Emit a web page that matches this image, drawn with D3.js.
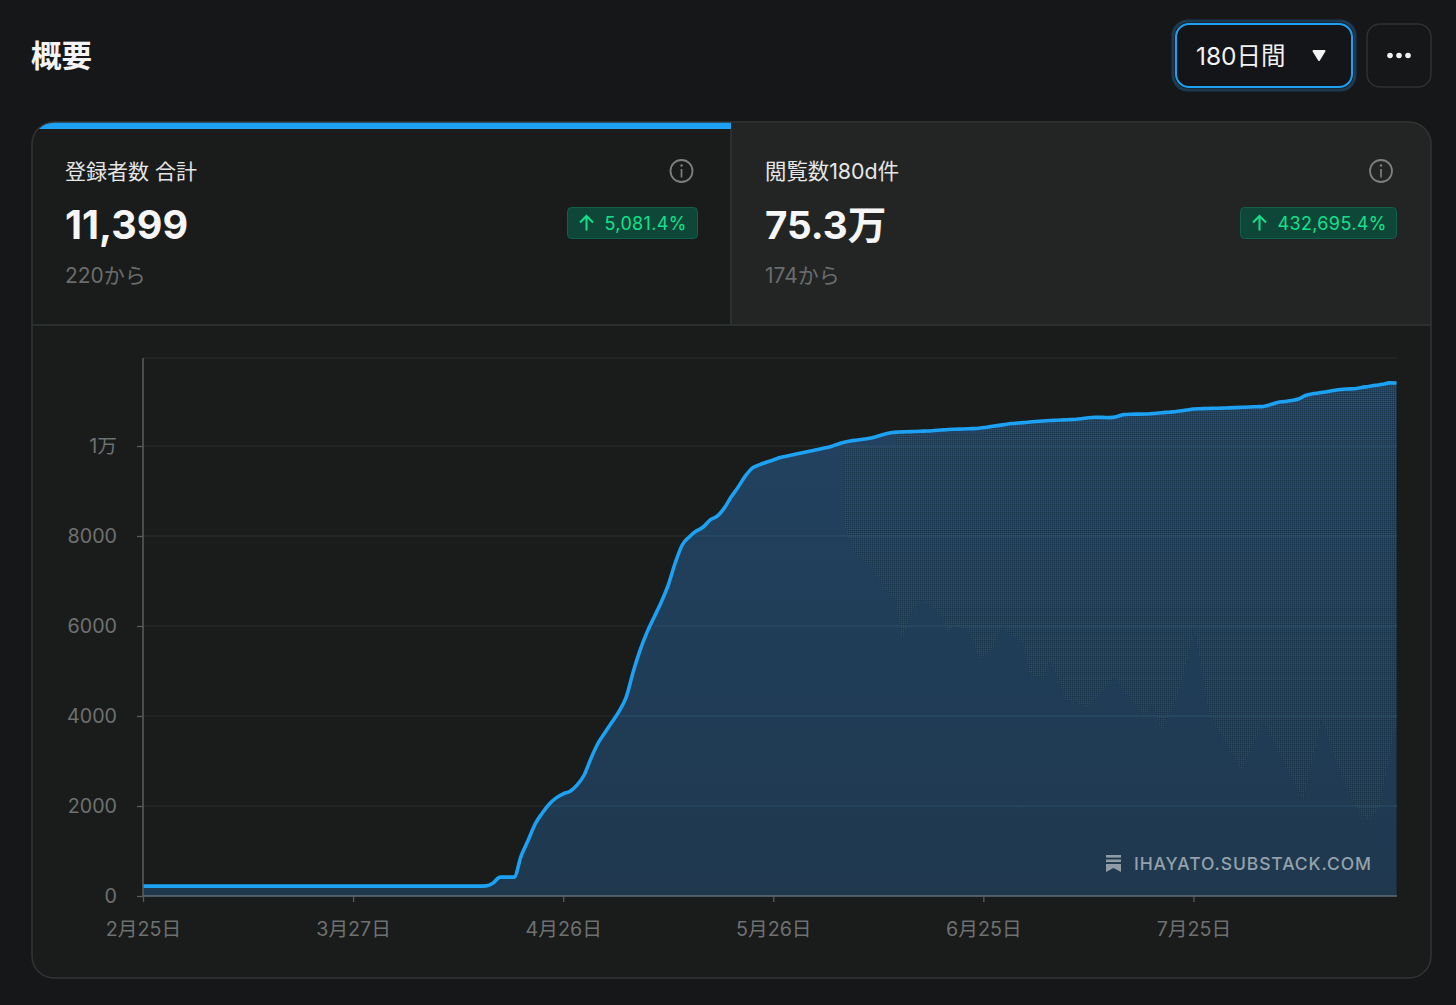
<!DOCTYPE html>
<html lang="ja">
<head>
<meta charset="utf-8">
<title>概要</title>
<script src="https://cdn.jsdelivr.net/npm/d3@7"></script>
<style>
  html, body { margin: 0; padding: 0; background: #161719; }
  svg { display: block; }
  text { font-family: "Inter", "Noto Sans CJK JP", sans-serif; }
</style>
</head>
<body>
<div id="chart"></div>
<script>
// daily totals
const flatDays = [220,220,220,220,220,220,220,220,220,220,220,220,220,220,220,220,220,220,220,220,220,220,220,220,220,
  220,220,220,220,220,220,220,220,220,220,220,220,220,220,220,220,220,220,220,220,220,220,220,220,225];
const riseDays = [290,420,420,420,890,1240,1600,1840,2040,2180,2270,2330,2470,2690,3070,3400,3640,3870,4110,4420,
  4980,5470,5870,6200,6530,6910,7400,7800,7980,8110,8200,8360,8440,8620,8870,9090,9330,9510,9580,9640,9690];
const tailDays = [9744,9778,9811,9844,9878,9911,9944,9978,10029,10078,10111,10133,10156,10178,10222,10267,10300,10311,
  10316,10322,10329,10333,10344,10356,10367,10373,10378,10384,10391,10409,10431,10453,10476,10500,10511,10524,10538,
  10551,10562,10569,10578,10584,10591,10604,10629,10638,10636,10631,10649,10698,10707,10709,10711,10720,10733,10747,
  10758,10778,10800,10822,10829,10833,10838,10842,10847,10853,10860,10867,10873,10880,10920,10967,10989,11011,11044,
  11122,11160,11182,11207,11233,11256,11267,11273,11300,11324,11349,11371,11404,11399];
const subscribers = flatDays.concat(riseDays, tailDays);

const yTicks = [0, 2000, 4000, 6000, 8000, 10000];
const yLabels = ['0', '2000', '4000', '6000', '8000', '1万'];
const xTickDays = [0, 30, 60, 90, 120, 150];
const xLabels = ['2月25日', '3月27日', '4月26日', '5月26日', '6月25日', '7月25日'];

// outline of the speckled part of the fill, as [day, value]
const speckleEdge = [[100.2,9984],[107.5,9984],[107.5,10280],[120,10280],[120,10450],[179,11600],[179,3689],
  [178.7,3689],[176.6,1984],[175,1651],[173.2,1984],[170.9,2800],[168.3,3911],[165.7,2133],[160,3873],[156.9,2800],
  [152.2,4067],[151.2,5022],[150.1,5956],[148.8,5022],[147.2,4207],[145.4,3689],[144.1,4289],[143.1,3984],[138.7,4844],
  [135,4207],[131.9,4356],[129.6,5244],[128.5,4844],[126.7,4911],[125.7,5622],[122.6,5956],[121.5,5540],[119.5,5244],
  [117.9,5911],[115.8,6022],[115,5822],[114.2,6207],[111.7,6578],[110.6,6540],[109.3,6133],[108.4,5651],[107.5,6578],
  [105.9,6873],[103.9,7356],[101.8,7578],[100.2,8207]];

const W = 1456, H = 1005;
const svg = d3.select('#chart').append('svg').attr('width', W).attr('height', H).attr('viewBox', `0 0 ${W} ${H}`);
const defs = svg.append('defs');

const x = d3.scaleLinear().domain([0, 179]).range([143, 1396.5]);
const y = d3.scaleLinear().domain([0, 11956]).range([896, 358]);

// card
const card = { x: 32, y: 122, w: 1399, h: 856, r: 22 };
defs.append('clipPath').attr('id', 'cardclip').append('rect')
  .attr('x', card.x).attr('y', card.y).attr('width', card.w).attr('height', card.h).attr('rx', card.r);
const inner = svg.append('g').attr('clip-path', 'url(#cardclip)');
inner.append('rect').attr('x', card.x).attr('y', card.y).attr('width', card.w).attr('height', card.h).attr('fill', '#1a1c1c');
inner.append('rect').attr('x', 731).attr('y', card.y).attr('width', 700).attr('height', 203).attr('fill', '#232525');
inner.append('rect').attr('x', card.x).attr('y', 122).attr('width', 699).attr('height', 7).attr('fill', '#1da1f2');
inner.append('line').attr('x1', card.x).attr('x2', 1431).attr('y1', 325).attr('y2', 325).attr('stroke', '#323434').attr('stroke-width', 1.5);
inner.append('line').attr('x1', 731).attr('x2', 731).attr('y1', 129).attr('y2', 325).attr('stroke', '#323434').attr('stroke-width', 1.5);
svg.append('rect').attr('x', card.x).attr('y', card.y).attr('width', card.w).attr('height', card.h).attr('rx', card.r)
  .attr('fill', 'none').attr('stroke', '#323434').attr('stroke-width', 1.5);

// header
svg.append('text').attr('x', 31).attr('y', 67).attr('font-size', 30.5).attr('font-weight', 700).attr('fill', '#f4f4f4').text('概要');
svg.append('rect').attr('x', 1173).attr('y', 21).attr('width', 182).attr('height', 69).attr('rx', 15)
  .attr('fill', 'none').attr('stroke', '#1c3a50').attr('stroke-width', 3);
svg.append('rect').attr('x', 1176).attr('y', 24).attr('width', 176).attr('height', 63).attr('rx', 13)
  .attr('fill', '#141518').attr('stroke', '#1da1f2').attr('stroke-width', 2);
svg.append('text').attr('x', 1196).attr('y', 65).attr('font-size', 24.5).attr('fill', '#f2f2f2').text('180日間');
svg.append('path').attr('d', 'M1313.5 51 L1324.5 51 L1319 60 Z').attr('fill', '#f2f2f2').attr('stroke', '#f2f2f2').attr('stroke-width', 2).attr('stroke-linejoin', 'round');
svg.append('rect').attr('x', 1367).attr('y', 24).attr('width', 64).attr('height', 63).attr('rx', 13)
  .attr('fill', 'none').attr('stroke', '#2e3032').attr('stroke-width', 1.5);
[1390, 1399, 1408].forEach(cx => svg.append('circle').attr('cx', cx).attr('cy', 55.5).attr('r', 2.8).attr('fill', '#f2f2f2'));

// stat panels
function panel(o) {
  const g = svg.append('g');
  g.append('text').attr('x', o.x).attr('y', 179).attr('font-size', o.labelSize).attr('fill', '#e6e6e6').text(o.label);
  g.append('text').attr('x', o.x).attr('y', 238.5).attr('font-size', o.valueSize).attr('font-weight', 700).attr('fill', '#f6f6f6').text(o.value);
  g.append('text').attr('x', o.x).attr('y', 283).attr('font-size', 21).attr('fill', '#6a6c6c').text(o.from);
  // info icon
  g.append('circle').attr('cx', o.infoX).attr('cy', 171).attr('r', 11).attr('fill', 'none').attr('stroke', '#7d7f7f').attr('stroke-width', 1.8);
  g.append('circle').attr('cx', o.infoX).attr('cy', 165.5).attr('r', 1.2).attr('fill', '#7d7f7f');
  g.append('line').attr('x1', o.infoX).attr('x2', o.infoX).attr('y1', 169).attr('y2', 177.5).attr('stroke', '#7d7f7f').attr('stroke-width', 1.7);
  // change badge
  g.append('rect').attr('x', o.badgeX).attr('y', 207.5).attr('width', o.badgeW).attr('height', 31).attr('rx', 4)
    .attr('fill', '#0e4737').attr('stroke', '#11604a').attr('stroke-width', 1);
  const ax = o.badgeX + 19;
  g.append('path').attr('d', `M${ax} 230.5 L${ax} 216 M${ax - 6.5} 222.5 L${ax} 216 L${ax + 6.5} 222.5`)
    .attr('fill', 'none').attr('stroke', '#14e08c').attr('stroke-width', 2);
  g.append('text').attr('x', o.badgeX + 37).attr('y', 230).attr('font-size', 18).attr('letter-spacing', 0.35).attr('fill', '#14e08c').text(o.change);
}
panel({ x: 65, label: '登録者数 合計', labelSize: 21, value: '11,399', valueSize: 39.5, from: '220から', infoX: 681.5, badgeX: 567.5, badgeW: 130, change: '5,081.4%' });
panel({ x: 765, label: '閲覧数180d件', labelSize: 21.4, value: '75.3万', valueSize: 38.6, from: '174から', infoX: 1381, badgeX: 1240.5, badgeW: 156, change: '432,695.4%' });

// gridlines and axes
const grid = svg.append('g');
yTicks.concat([11956]).forEach(t => {
  grid.append('line').attr('x1', 143).attr('x2', 1397).attr('y1', y(t)).attr('y2', y(t)).attr('stroke', '#2a2c2c').attr('stroke-width', 1.2);
});

const grad = defs.append('linearGradient').attr('id', 'areafill').attr('x1', 0).attr('x2', 0).attr('y1', 0).attr('y2', 1);
grad.append('stop').attr('offset', '0%').attr('stop-color', '#224362');
grad.append('stop').attr('offset', '100%').attr('stop-color', '#1f384e');

const area = d3.area().x((d, i) => x(i)).y0(y(0)).y1(d => y(d)).curve(d3.curveMonotoneX);
const line = d3.line().x((d, i) => x(i)).y(d => y(d)).curve(d3.curveMonotoneX);
svg.append('path').datum(subscribers).attr('d', area).attr('fill', 'url(#areafill)');

// speckle inside the fill
const speckle = defs.append('pattern').attr('id', 'speckle').attr('patternUnits', 'userSpaceOnUse').attr('width', 2).attr('height', 2);
speckle.append('rect').attr('width', 1).attr('height', 1).attr('fill', '#17303f').attr('fill-opacity', 0.6);
speckle.append('rect').attr('x', 1).attr('y', 1).attr('width', 1).attr('height', 1).attr('fill', '#2e5e78').attr('fill-opacity', 0.55);
defs.append('clipPath').attr('id', 'areaclip').append('path').datum(subscribers).attr('d', area);
svg.append('path').datum(speckleEdge)
  .attr('d', d3.line().x(d => x(d[0])).y(d => y(d[1])))
  .attr('fill', 'url(#speckle)').attr('clip-path', 'url(#areaclip)');

// faint gridlines show through the fill
yTicks.slice(1).forEach(t => {
  const firstDay = d3.bisectLeft(subscribers, t);
  svg.append('line').attr('x1', x(firstDay)).attr('x2', 1397).attr('y1', y(t)).attr('y2', y(t)).attr('stroke', '#2c5068').attr('stroke-width', 1);
});

svg.append('path').datum(subscribers).attr('d', line).attr('fill', 'none').attr('stroke', '#1da1f2').attr('stroke-width', 3.6).attr('stroke-linejoin', 'round');

const yAxis = d3.axisLeft(y).tickValues(yTicks).tickFormat((d, i) => yLabels[i]).tickSize(6).tickPadding(20);
const xAxis = d3.axisBottom(x).tickValues(xTickDays).tickFormat((d, i) => xLabels[i]).tickSize(6).tickPadding(20);
const gy = svg.append('g').attr('transform', 'translate(143,0)').call(yAxis);
const gx = svg.append('g').attr('transform', 'translate(0,896)').call(xAxis);
gy.select('.domain').attr('d', 'M0 358 V896').attr('stroke', '#5a5c5c').attr('stroke-width', 1.5);
gx.select('.domain').attr('d', 'M143 0 H1397').attr('stroke', '#5f6a72').attr('stroke-width', 1.5);
svg.selectAll('.tick line').attr('stroke', '#5a5c5c').attr('stroke-width', 1.3);
svg.selectAll('.tick text').attr('font-size', 19.7).attr('fill', '#6f7171').attr('font-family', '"Inter", "Noto Sans CJK JP", sans-serif');

// watermark
const mark = svg.append('g').attr('fill', '#8f9ca6');
mark.append('rect').attr('x', 1106).attr('y', 855).attr('width', 15).attr('height', 2.6);
mark.append('rect').attr('x', 1106).attr('y', 859.5).attr('width', 15).attr('height', 2.6);
mark.append('path').attr('d', 'M1106 864 H1121 V872 L1113.5 868 L1106 872 Z');
svg.append('text').attr('x', 1134).attr('y', 870).attr('font-size', 17.5).attr('letter-spacing', 0.9).attr('font-weight', 500).attr('fill', '#95a2ab').text('IHAYATO.SUBSTACK.COM');
</script>
</body>
</html>
